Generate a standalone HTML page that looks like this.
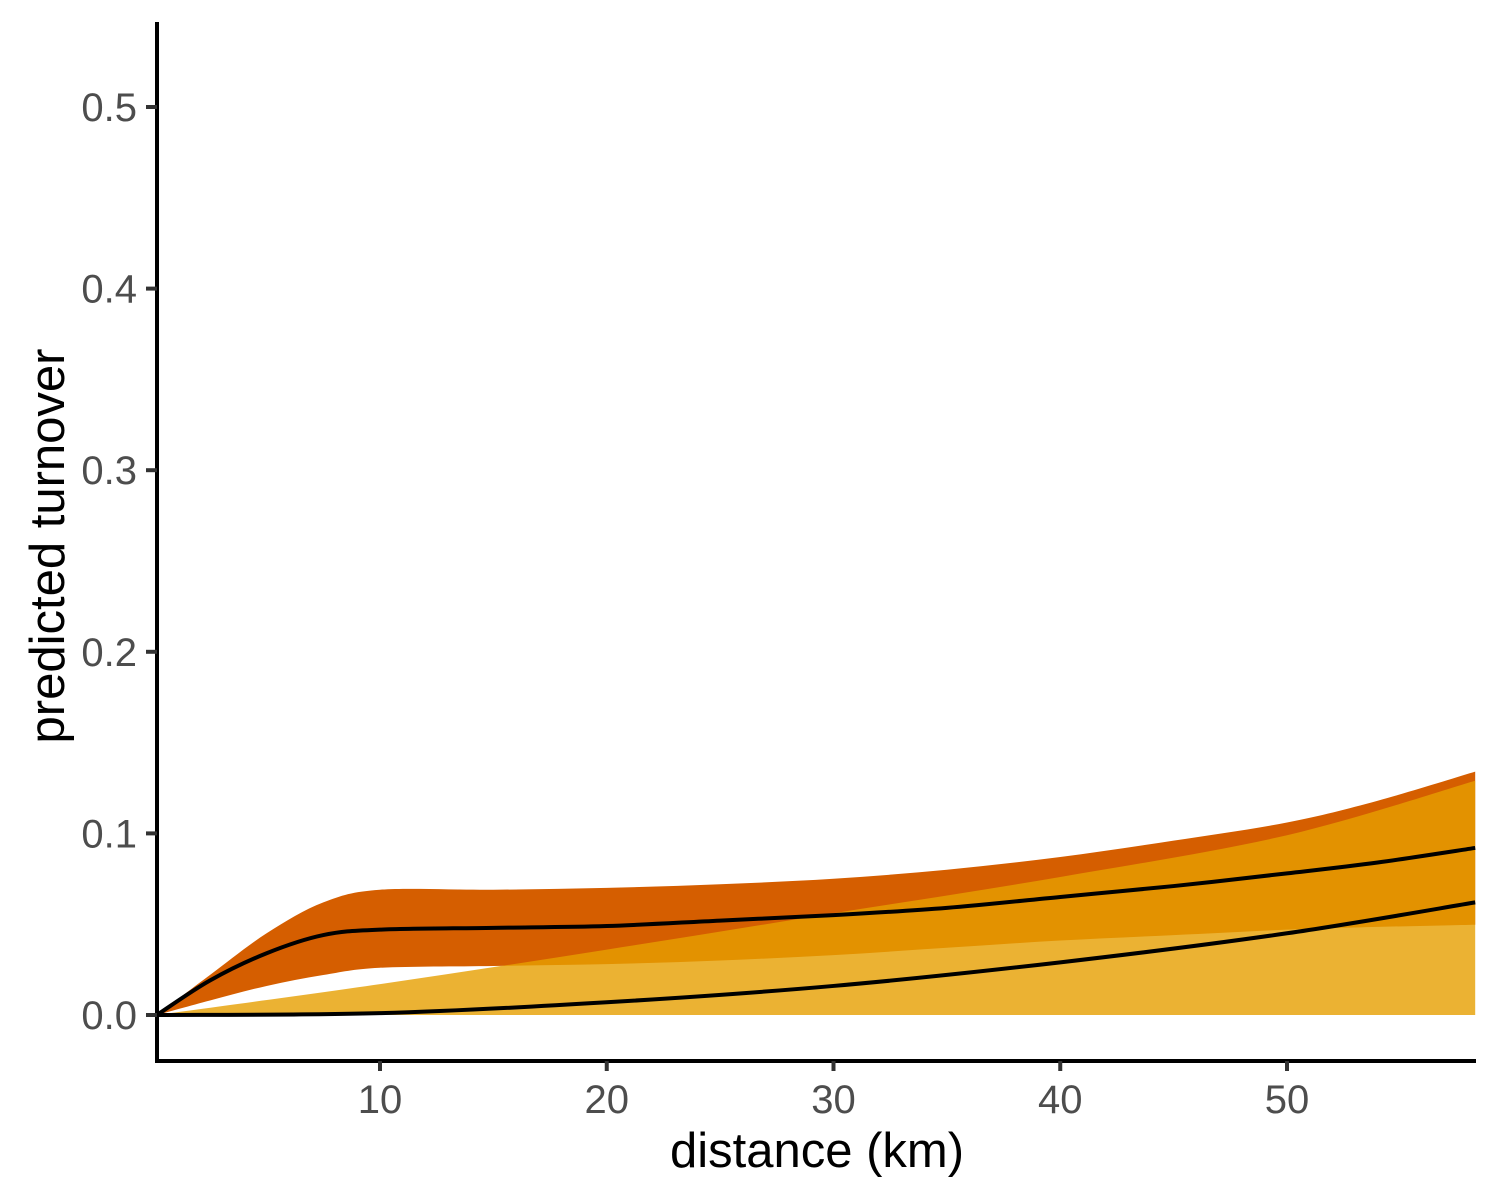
<!DOCTYPE html>
<html><head><meta charset="utf-8"><style>
html,body{margin:0;padding:0;background:#fff}
svg{display:block}
text{font-family:"Liberation Sans",Arial,sans-serif}
</style></head><body>
<svg id="chart" width="1500" height="1200" viewBox="0 0 1500 1200">
<g id="bands"></g>
<g id="lines"></g>
<g id="axes"></g>
<text x="817" y="1167" text-anchor="middle" font-size="49" fill="#000">distance (km)</text>
<text transform="translate(64,546) rotate(-90)" text-anchor="middle" font-size="49" fill="#000">predicted turnover</text>
</svg>
<script>
const xTicks = [10, 20, 30, 40, 50];
const yTicks = [0, 0.1, 0.2, 0.3, 0.4, 0.5];
const yTickLabels = ["0.0", "0.1", "0.2", "0.3", "0.4", "0.5"];
const aX = [0.16, 2.5, 5, 7.5, 10, 15, 20, 25, 30, 35, 40, 45, 50, 54, 58.3];
const aUpper = [0, 0.022, 0.045, 0.062, 0.069, 0.069, 0.070, 0.072, 0.075, 0.080, 0.087, 0.096, 0.106, 0.118, 0.134];
const aLower = [0, 0.008, 0.016, 0.022, 0.026, 0.027, 0.028, 0.030, 0.033, 0.037, 0.041, 0.044, 0.047, 0.0485, 0.0497];
const aMean = [0, 0.019, 0.034, 0.044, 0.047, 0.048, 0.049, 0.052, 0.055, 0.059, 0.065, 0.071, 0.078, 0.084, 0.092];
const bX = [0.16, 10, 20, 30, 40, 50, 58.3];
const bUpper = [0, 0.017, 0.036, 0.056, 0.076, 0.099, 0.129];
const bLower = [0, 0, 0, 0, 0, 0, 0];
const bMean = [0, 0.001, 0.007, 0.016, 0.029, 0.045, 0.062];

const NS = "http://www.w3.org/2000/svg";
const sx = v => 153.25 + v * 22.675;
const sy = v => 1015 - v * 1816;
function curve(xs, ys, move) {
  const p = xs.map((x, i) => [sx(x), sy(ys[i])]);
  let d = (move ? "M" : "L") + p[0][0].toFixed(2) + "," + p[0][1].toFixed(2);
  for (let i = 0; i < p.length - 1; i++) {
    const p0 = p[Math.max(0, i - 1)], p1 = p[i], p2 = p[i + 1], p3 = p[Math.min(p.length - 1, i + 2)];
    const c1 = [p1[0] + (p2[0] - p0[0]) / 6, p1[1] + (p2[1] - p0[1]) / 6];
    const c2 = [p2[0] - (p3[0] - p1[0]) / 6, p2[1] - (p3[1] - p1[1]) / 6];
    d += "C" + c1.map(v => v.toFixed(2)).join(",") + " " + c2.map(v => v.toFixed(2)).join(",") + " " + p2[0].toFixed(2) + "," + p2[1].toFixed(2);
  }
  return d;
}
function ribbon(xs, up, lo) {
  return curve(xs, up, true) + curve(xs.slice().reverse(), lo.slice().reverse(), false) + "Z";
}
function el(tag, attrs, parent) {
  const e = document.createElementNS(NS, tag);
  for (const k in attrs) e.setAttribute(k, attrs[k]);
  parent.appendChild(e);
  return e;
}
const bands = document.getElementById("bands");
const ra = el("path", {d: ribbon(aX, aUpper, aLower), fill: "#D55E00"}, bands);


const rb = el("path", {d: ribbon(bX, bUpper, bLower), fill: "#E69F00", "fill-opacity": "0.8"}, bands);


const lines = document.getElementById("lines");
const la = el("path", {d: curve(aX, aMean, true), fill: "none", stroke: "#000", "stroke-width": "4"}, lines);


const lb = el("path", {d: curve(bX, bMean, true), fill: "none", stroke: "#000", "stroke-width": "4"}, lines);



const axes = document.getElementById("axes");
const yl = el("line", {x1: 157, y1: 22, x2: 157, y2: 1063, stroke: "#000", "stroke-width": "4"}, axes);


const xl = el("line", {x1: 155, y1: 1061, x2: 1476, y2: 1061, stroke: "#000", "stroke-width": "4"}, axes);


xTicks.forEach(t => {
  const tk = el("line", {x1: sx(t), y1: 1061, x2: sx(t), y2: 1071, stroke: "#333", "stroke-width": "4"}, axes);
  
  
  const lb = el("text", {x: sx(t), y: 1113, "text-anchor": "middle", "font-size": "40", fill: "#4d4d4d"}, axes);
  lb.textContent = String(t);
  
  
});
yTicks.forEach((t, i) => {
  const tk = el("line", {x1: 146, y1: sy(t), x2: 157, y2: sy(t), stroke: "#333", "stroke-width": "4"}, axes);
  
  
  const lb = el("text", {x: 137, y: sy(t) + 14, "text-anchor": "end", "font-size": "40", fill: "#4d4d4d"}, axes);
  lb.textContent = yTickLabels[i];
  
  
});
</script>
</body></html>
